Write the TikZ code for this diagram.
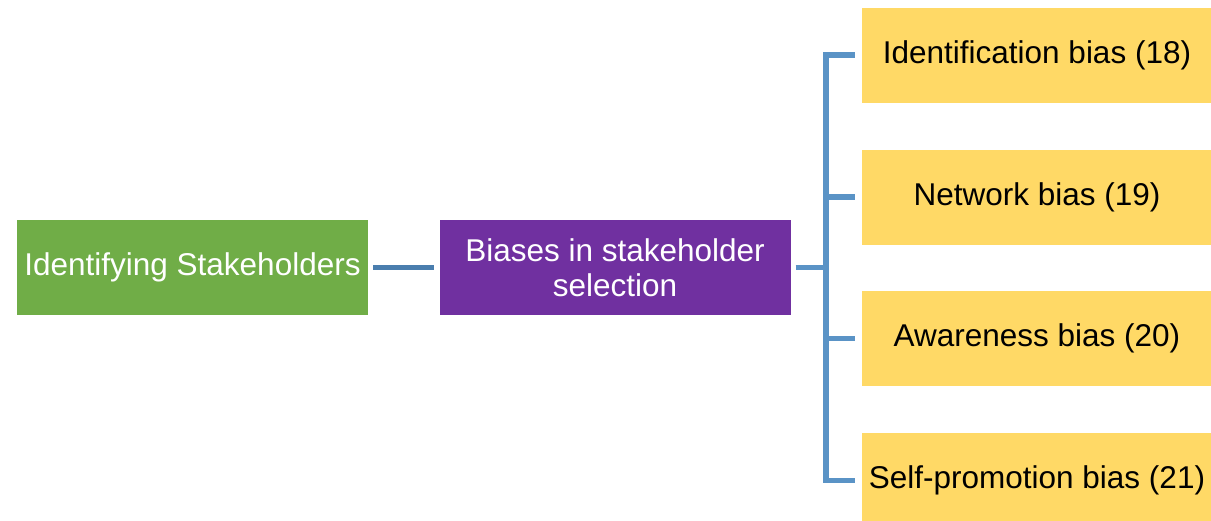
\documentclass[tikz,border=0pt]{standalone}
\usepackage{fontspec}
\setmainfont{Liberation Sans}
\definecolor{boxgreen}{HTML}{70AD47}
\definecolor{boxpurple}{HTML}{7030A0}
\definecolor{boxyellow}{HTML}{FFD966}
\definecolor{linkblue}{HTML}{5A93C6}
\definecolor{linkdark}{HTML}{4A7EAE}
\tikzset{
  topic/.style={minimum width=351pt, minimum height=95pt, inner sep=0pt,
    align=center, font=\fontsize{31.5}{35}\selectfont},
  rootbox/.style={topic, fill=boxgreen, text=white},
  midbox/.style={topic, fill=boxpurple, text=white},
  leafbox/.style={topic, fill=boxyellow, text=black},
  link/.style={draw=linkblue, line width=5.5pt}
}
\begin{document}
\begin{tikzpicture}[x=1pt, y=-1pt]
    \clip (0,0) rectangle (1211,520);
    \fill[white] (0,0) rectangle (1211,520);

    % Draw the main boxes
    \node[rootbox] (ident) at (192.5,267.5) {Identifying Stakeholders};
    \node[midbox] (bias) at (615,267.5) {Biases in stakeholder\\selection};

    % Draw the bias boxes
    \node[leafbox] (idbias) at (1037,55) {Identification bias (18)};
    \node[leafbox] (netbias) at (1037,197) {Network bias (19)};
    \node[leafbox] (awbias) at (1037,338.5) {Awareness bias (20)};
    \node[leafbox] (selfbias) at (1037,480.5) {Self-promotion bias (21)};

    % Add the connectors
    \coordinate (trunk) at (826,267.5);
    \draw[link, draw=linkdark, line width=5pt, shorten <=5pt, shorten >=5pt] (ident) -- (bias);
    \draw[link, shorten <=5pt] (bias.east) -- (trunk);
    \draw[link, line cap=rect] (trunk |- idbias) -- (trunk |- selfbias);
    \foreach \leaf in {idbias, netbias, awbias, selfbias}
      \draw[link, shorten >=6pt] (trunk |- \leaf) -- (\leaf.west);

\end{tikzpicture}
\end{document}
